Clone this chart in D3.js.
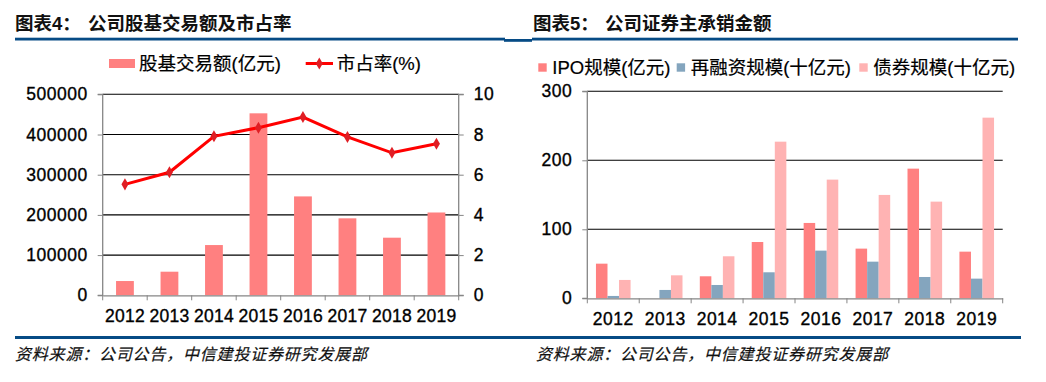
<!DOCTYPE html>
<html><head><meta charset="utf-8">
<script src="https://cdn.jsdelivr.net/npm/d3@7"></script>
<style>
html,body{margin:0;padding:0;background:#fff;}
svg{display:block;}
text{font-family:"Liberation Sans",Arial,"Noto Sans CJK SC",sans-serif;}
.cjk{font-family:"Liberation Sans","Noto Sans CJK SC",sans-serif;}
</style></head>
<body>
<svg id="c" width="1046" height="382"></svg>
<script>
// ---- Data ----
const years = ["2012","2013","2014","2015","2016","2017","2018","2019"];
// Chart 4
const tradeVolume = [35500, 58700, 125000, 452700, 246000, 191500, 143300, 206000]; // 亿元
const marketShare = [5.52, 6.12, 7.91, 8.34, 8.87, 7.88, 7.09, 7.54]; // %
const leftTicks = [0, 100000, 200000, 300000, 400000, 500000];
const rightTicks = [0, 2, 4, 6, 8, 10];
// Chart 5
const ipoScale = [50.2, 0, 31.9, 81.6, 109.2, 72, 187.9, 67.6];      // 亿元
const refinanceScale = [3.4, 12.1, 19.3, 37.7, 69.1, 53.1, 30.9, 28.5]; // 十亿元
const bondScale = [26.6, 33.3, 60.9, 227, 172, 149.8, 140.1, 261.8];  // 十亿元
const chart5Ticks = [0, 100, 200, 300];
const series5Names = ["IPO规模(亿元)", "再融资规模(十亿元)", "债券规模(十亿元)"];
const titles = ["图表4：", "公司股基交易额及市占率", "图表5：", "公司证券主承销金额"];
const legend4 = ["股基交易额(亿元)", "市占率(%)"];
const sourceText = "资料来源：公司公告，中信建投证券研究发展部";

const svg = d3.select("#c");
const BLUE = "#064b85";
const AXIS = "#868686";
const FS = 17.5;

// ---- Titles and rules ----
function title(x, t1, x2, t2) {
  const t = svg.append("text").attr("y", 30).attr("font-weight", "bold")
    .attr("font-size", 18.5).attr("fill", "#111").attr("class", "cjk");
  t.append("tspan").attr("x", x).text(t1);
  t.append("tspan").attr("x", x2).text(t2);
}
title(15, titles[0], 88, titles[1]);
title(533, titles[2], 605, titles[3]);
svg.append("rect").attr("x", 15).attr("y", 37.7).attr("width", 490).attr("height", 2.8).attr("fill", BLUE);
svg.append("rect").attr("x", 504).attr("y", 39).attr("width", 28).attr("height", 2.8).attr("fill", BLUE);
svg.append("rect").attr("x", 532).attr("y", 37.7).attr("width", 486).attr("height", 2.8).attr("fill", BLUE);
svg.append("rect").attr("x", 15).attr("y", 336).attr("width", 1006).attr("height", 3).attr("fill", BLUE);
[15, 536].forEach(x => svg.append("text").attr("x", x).attr("y", 360).attr("font-size", 16)
  .attr("font-style", "italic").attr("letter-spacing", 0.8).attr("fill", "#111")
  .attr("stroke", "#111").attr("stroke-width", 0.2).attr("class", "cjk").text(sourceText));

function styleText(sel) {
  sel.attr("font-size", FS).attr("fill", "#000").attr("letter-spacing", 0.5)
    .attr("stroke", "#000").attr("stroke-width", 0.35)
    .attr("font-family", "Liberation Sans, Arial, sans-serif");
}

// ---- Chart 4 ----
{
  const x0 = 102.7, x1 = 458.7, yTop = 94.3, yBot = 295.3;
  const x = d3.scaleBand().domain(years).range([x0, x1]).paddingInner(0.6).paddingOuter(0.3);
  const xb = d3.scaleBand().domain(years).range([x0, x1]);
  const yL = d3.scaleLinear().domain([0, 500000]).range([yBot, yTop]);
  const yR = d3.scaleLinear().domain([0, 10]).range([yBot, yTop]);
  const g = svg.append("g");
  g.selectAll(".grid").data(leftTicks.filter(d => d > 0)).join("line")
    .attr("x1", x0).attr("x2", x1).attr("y1", d => yL(d)).attr("y2", d => yL(d))
    .attr("stroke", "#000").attr("stroke-width", 1.1);
  g.selectAll(".bar").data(tradeVolume).join("rect")
    .attr("x", (d, i) => x(years[i])).attr("width", x.bandwidth())
    .attr("y", d => yL(d)).attr("height", d => yBot - yL(d)).attr("fill", "#ff8080");
  const axL = d3.axisLeft(yL).tickValues(leftTicks).tickSize(5).tickPadding(10).tickFormat(d3.format("d"));
  const gl = g.append("g").attr("transform", `translate(${x0},0)`).call(axL);
  const axR = d3.axisRight(yR).tickValues(rightTicks).tickSize(5).tickPadding(10);
  const gr = g.append("g").attr("transform", `translate(${x1},0)`).call(axR);
  const axB = d3.axisBottom(xb).tickSize(0).tickPadding(17);
  const gb = g.append("g").attr("transform", `translate(0,${yBot})`).call(axB);
  g.selectAll(".bt").data(d3.range(years.length + 1)).join("line")
    .attr("x1", i => x0 + i * xb.step()).attr("x2", i => x0 + i * xb.step())
    .attr("y1", yBot).attr("y2", yBot + 5).attr("stroke", AXIS);
  [gl, gr, gb].forEach(a => {
    a.select(".domain").attr("stroke", AXIS).attr("stroke-width", 1.3);
    a.selectAll(".tick line").attr("stroke", AXIS);
    styleText(a.selectAll("text"));
  });
  gl.select(".domain").attr("d", `M-5,${yTop}H0V${yBot}H-5`);
  gr.select(".domain").attr("d", `M5,${yTop}H0V${yBot}H5`);
  gb.selectAll("text").attr("dy", "0.75em").attr("y", 14).attr("letter-spacing", 0.2);
  const line = d3.line().x((d, i) => xb(years[i]) + xb.bandwidth() / 2).y(d => yR(d));
  g.append("path").datum(marketShare).attr("d", line).attr("fill", "none")
    .attr("stroke", "#ff0000").attr("stroke-width", 3);
  g.selectAll(".mk").data(marketShare).join("path")
    .attr("transform", (d, i) => `translate(${xb(years[i]) + xb.bandwidth() / 2},${yR(d)})`)
    .attr("d", d3.symbol(d3.symbolDiamond, 42)).attr("fill", "#e01e24");
  svg.append("rect").attr("x", 109).attr("y", 59).attr("width", 26).attr("height", 9).attr("fill", "#ff8080");
  svg.append("text").attr("x", 139).attr("y", 69.5).attr("font-size", 18.5).attr("class", "cjk").attr("fill", "#000")
    .attr("stroke", "#000").attr("stroke-width", 0.2).text(legend4[0]);
  svg.append("line").attr("x1", 305.7).attr("x2", 333).attr("y1", 63.5).attr("y2", 63.5).attr("stroke", "#ff0000").attr("stroke-width", 3);
  svg.append("path").attr("transform", "translate(319.3,63.5)").attr("d", d3.symbol(d3.symbolDiamond, 42)).attr("fill", "#e01e24");
  svg.append("text").attr("x", 336.7).attr("y", 69.5).attr("font-size", 18.5).attr("class", "cjk").attr("fill", "#000")
    .attr("stroke", "#000").attr("stroke-width", 0.2).text(legend4[1]);
}

// ---- Chart 5 ----
{
  const x0 = 587.3, x1 = 1002.7, yTop = 91.3, yBot = 298.3;
  const xb = d3.scaleBand().domain(years).range([x0, x1]);
  const x = d3.scaleBand().domain(years).range([x0, x1]).paddingInner(1 / 3).paddingOuter(1 / 6);
  const xs = d3.scaleBand().domain([0, 1, 2]).range([0, x.bandwidth()]);
  const y = d3.scaleLinear().domain([0, 300]).range([yBot, yTop]);
  const colors = ["#ff8080", "#84a5be", "#ffb3b3"];
  const series = [ipoScale, refinanceScale, bondScale];
  const g = svg.append("g");
  g.selectAll(".grid").data(chart5Ticks.filter(d => d > 0)).join("line")
    .attr("x1", x0).attr("x2", x1).attr("y1", d => y(d)).attr("y2", d => y(d))
    .attr("stroke", "#000").attr("stroke-width", 1.1);
  series.forEach((vals, s) => {
    g.selectAll(".s" + s).data(vals).join("rect")
      .attr("x", (d, i) => x(years[i]) + xs(s)).attr("width", xs.bandwidth())
      .attr("y", d => y(d)).attr("height", d => yBot - y(d)).attr("fill", colors[s]);
  });
  const axL = d3.axisLeft(y).tickValues(chart5Ticks).tickSize(5).tickPadding(10);
  const gl = g.append("g").attr("transform", `translate(${x0},0)`).call(axL);
  const axB = d3.axisBottom(xb).tickSize(0).tickPadding(17);
  const gb = g.append("g").attr("transform", `translate(0,${yBot})`).call(axB);
  g.selectAll(".bt").data(d3.range(years.length + 1)).join("line")
    .attr("x1", i => x0 + i * xb.step()).attr("x2", i => x0 + i * xb.step())
    .attr("y1", yBot).attr("y2", yBot + 5).attr("stroke", AXIS);
  [gl, gb].forEach(a => {
    a.select(".domain").attr("stroke", AXIS).attr("stroke-width", 1.3);
    a.selectAll(".tick line").attr("stroke", AXIS);
    styleText(a.selectAll("text"));
  });
  gl.select(".domain").attr("d", `M-5,${yTop}H0V${yBot}H-5`);
  gb.selectAll("text").attr("dy", "0.75em").attr("y", 14);
  const lx = [538.3, 676.7, 859.3];
  series5Names.forEach((n, s) => {
    svg.append("rect").attr("x", lx[s]).attr("y", 63.3).attr("width", 8.4).attr("height", 8.4).attr("fill", colors[s]);
    svg.append("text").attr("x", lx[s] + 14).attr("y", 74).attr("font-size", 18.5).attr("class", "cjk").attr("fill", "#000")
      .attr("stroke", "#000").attr("stroke-width", 0.2).text(n);
  });
}
</script>
</body></html>
